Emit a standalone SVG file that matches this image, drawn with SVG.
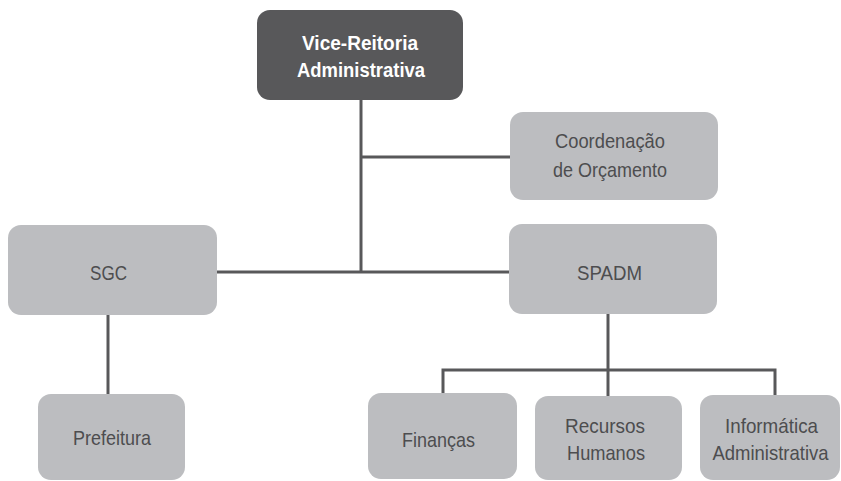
<svg xmlns="http://www.w3.org/2000/svg" width="841" height="481" viewBox="0 0 841 481">
<style>
.box{fill:#bcbdc0}
.dark{fill:#58585a}
.t{font-family:"Liberation Sans Narrow","Liberation Sans",Arial,sans-serif;font-size:21px;fill:#4d4d4f;text-anchor:middle}
.tb{font-family:"Liberation Sans Narrow","Liberation Sans",Arial,sans-serif;font-size:20px;font-weight:bold;fill:#ffffff;text-anchor:middle}
.c{stroke:#58585a;stroke-width:3;fill:none}
</style>
<rect width="841" height="481" fill="#ffffff"/>
<g id="connectors">
<line class="c" x1="361" y1="100" x2="361" y2="272"/>
<line class="c" x1="361" y1="157" x2="510" y2="157"/>
<line class="c" x1="217" y1="272" x2="509" y2="272"/>
<line class="c" x1="108" y1="315" x2="108" y2="394"/>
<line class="c" x1="608" y1="314" x2="608" y2="396"/>
<polyline class="c" points="443,393 443,370 775,370 775,395"/>
</g>
<g id="vice"><rect class="dark" x="257" y="10" width="206" height="90" rx="13"/>
<text class="tb" x="360" y="50" textLength="116" lengthAdjust="spacingAndGlyphs">Vice-Reitoria</text><text class="tb" x="361" y="77" textLength="128" lengthAdjust="spacingAndGlyphs">Administrativa</text></g>
<g id="coord"><rect class="box" x="510" y="112" width="208" height="88" rx="13"/>
<text class="t" x="610" y="148" textLength="110" lengthAdjust="spacingAndGlyphs">Coordenação</text><text class="t" x="610" y="177" textLength="114" lengthAdjust="spacingAndGlyphs">de Orçamento</text></g>
<g id="sgc"><rect class="box" x="8" y="225" width="209" height="90" rx="13"/>
<text class="t" x="108.5" y="280" textLength="37" lengthAdjust="spacingAndGlyphs">SGC</text></g>
<g id="spadm"><rect class="box" x="509" y="224" width="208" height="90" rx="13"/>
<text class="t" x="609.5" y="280" textLength="65" lengthAdjust="spacingAndGlyphs">SPADM</text></g>
<g id="prefeitura"><rect class="box" x="38" y="394" width="147" height="86" rx="13"/>
<text class="t" x="112" y="445" textLength="78" lengthAdjust="spacingAndGlyphs">Prefeitura</text></g>
<g id="financas"><rect class="box" x="368" y="393" width="149" height="86" rx="13"/>
<text class="t" x="438.5" y="447" textLength="73" lengthAdjust="spacingAndGlyphs">Finanças</text></g>
<g id="rh"><rect class="box" x="535" y="396" width="147" height="84" rx="13"/>
<text class="t" x="605" y="433" textLength="80" lengthAdjust="spacingAndGlyphs">Recursos</text><text class="t" x="606" y="460" textLength="78" lengthAdjust="spacingAndGlyphs">Humanos</text></g>
<g id="info"><rect class="box" x="700" y="395" width="140" height="85" rx="13"/>
<text class="t" x="771.5" y="433" textLength="93" lengthAdjust="spacingAndGlyphs">Informática</text><text class="t" x="770.5" y="460" textLength="116" lengthAdjust="spacingAndGlyphs">Administrativa</text></g>
</svg>
